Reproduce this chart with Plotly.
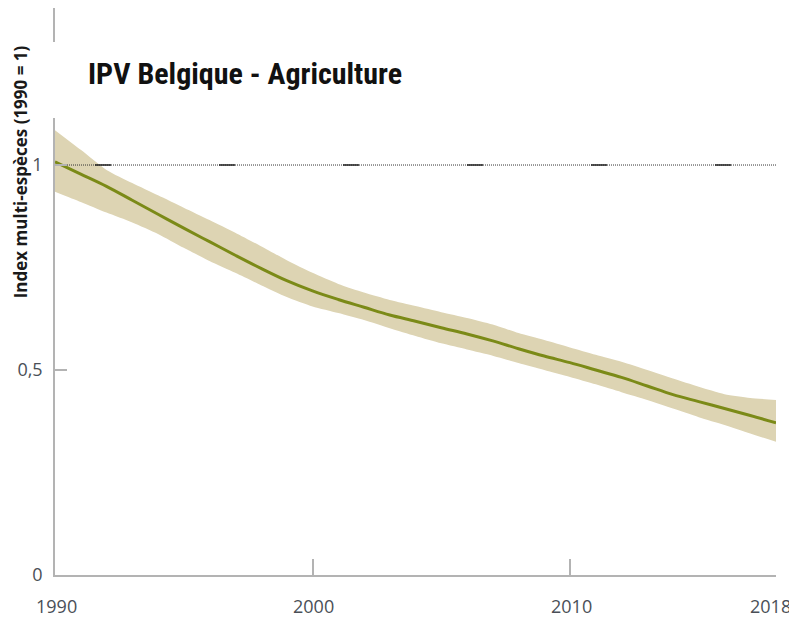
import plotly.graph_objects as go

years = list(range(1990, 2019))
index_values = [1.008, 0.978, 0.948, 0.914, 0.880, 0.846, 0.813, 0.780, 0.748, 0.718,
                0.693, 0.672, 0.653, 0.634, 0.619, 0.603, 0.588, 0.571, 0.552, 0.534,
                0.518, 0.500, 0.482, 0.461, 0.440, 0.423, 0.406, 0.389, 0.371]
upper_bound = [1.085, 1.037, 0.988, 0.956, 0.926, 0.896, 0.866, 0.835, 0.802, 0.768,
               0.737, 0.710, 0.689, 0.671, 0.656, 0.641, 0.627, 0.611, 0.590, 0.573,
               0.555, 0.537, 0.520, 0.500, 0.479, 0.459, 0.441, 0.432, 0.427]
lower_bound = [0.935, 0.910, 0.884, 0.860, 0.832, 0.798, 0.766, 0.737, 0.707, 0.678,
               0.655, 0.639, 0.622, 0.602, 0.583, 0.565, 0.550, 0.535, 0.517, 0.500,
               0.483, 0.465, 0.446, 0.427, 0.406, 0.385, 0.366, 0.345, 0.325]
reference_level = 1
x_tick_vals = [1990, 2000, 2010, 2018]
x_tick_text = ["1990", "2000", "2010", "2018"]
y_tick_vals = [0, 0.5, 1]
y_tick_text = ["0", "0,5", "1"]
title_text = "IPV Belgique - Agriculture"
y_title_text = "Index multi-espèces (1990 = 1)"

BAND = "#ddd4b3"
LINE = "#7b8a17"
AXIS = "#b3b3b3"
TICKFONT = dict(family="Open Sans", size=18, color="#4a4f57")

fig = go.Figure()
fig.add_trace(go.Scatter(x=years, y=lower_bound, mode="lines", line=dict(width=0, shape="spline", smoothing=0.6, color=BAND),
                         hoverinfo="skip", showlegend=False))
fig.add_trace(go.Scatter(x=years, y=upper_bound, mode="lines", line=dict(width=0, shape="spline", smoothing=0.6, color=BAND),
                         fill="tonexty", fillcolor=BAND, hoverinfo="skip", showlegend=False))
ref_x = [years[0], years[-1]]
fig.add_trace(go.Scatter(x=ref_x, y=[reference_level] * 2, mode="lines",
                         line=dict(color="#333333", width=1, dash="1px,1px"), showlegend=False, hoverinfo="skip"))
fig.add_trace(go.Scatter(x=ref_x, y=[reference_level] * 2, mode="lines",
                         line=dict(color="#222222", width=1.5, dash="0px,40px,16px,68px"), showlegend=False, hoverinfo="skip"))
fig.add_trace(go.Scatter(x=years, y=index_values, mode="lines", line=dict(color=LINE, width=3, shape="spline"),
                         showlegend=False))

# x tick labels as annotations so the last one can stay inside the page
x_label_anns = []
for i, (v, t) in enumerate(zip(x_tick_vals, x_tick_text)):
    last = i == len(x_tick_vals) - 1
    x_label_anns.append(dict(text=t, x=v, xref="x", y=0, yref="paper", yanchor="middle",
                             xanchor="center", xshift=-6 if last else 1, yshift=-31,
                             showarrow=False, font=TICKFONT))

fig.update_layout(
    width=789, height=612,
    margin=dict(l=47, r=21, t=0, b=45),
    paper_bgcolor="white", plot_bgcolor="white",
    xaxis=dict(range=[1990, 2018], showgrid=False, zeroline=False, showline=True, linecolor=AXIS, linewidth=1.5,
               tickvals=x_tick_vals, showticklabels=False, ticks="", automargin=False,
               minor=dict(tickvals=[2000, 2010], ticks="inside", ticklen=16, tickcolor=AXIS, tickwidth=1.5)),
    yaxis=dict(range=[0, 1.383], showgrid=False, zeroline=False, showline=True, linecolor=AXIS, linewidth=1.5,
               tickvals=y_tick_vals, ticktext=y_tick_text, ticks="inside", ticklen=12, tickcolor=AXIS, tickwidth=1.5,
               tickfont=TICKFONT, ticklabelstandoff=7, automargin=False),
    shapes=[dict(type="rect", xref="paper", yref="paper", x0=-0.01, x1=0.01, y0=0.806, y1=0.940,
                 fillcolor="white", line=dict(width=0), layer="above")],
    annotations=[
        dict(text=title_text, xref="paper", yref="paper", x=0.0430, y=0.8836, xanchor="left", yanchor="middle",
             showarrow=False, font=dict(family="Roboto Condensed, Open Sans Condensed, sans-serif",
                                        size=30, color="#111111", weight="bold")),
        dict(text=y_title_text, xref="paper", yref="paper", x=-0.0480, y=0.711, xanchor="center", yanchor="middle",
             textangle=-90, showarrow=False,
             font=dict(family="Open Sans", size=17, color="#1a1a1a", weight="bold")),
    ] + x_label_anns,
)

fig.write_html("out.html")
